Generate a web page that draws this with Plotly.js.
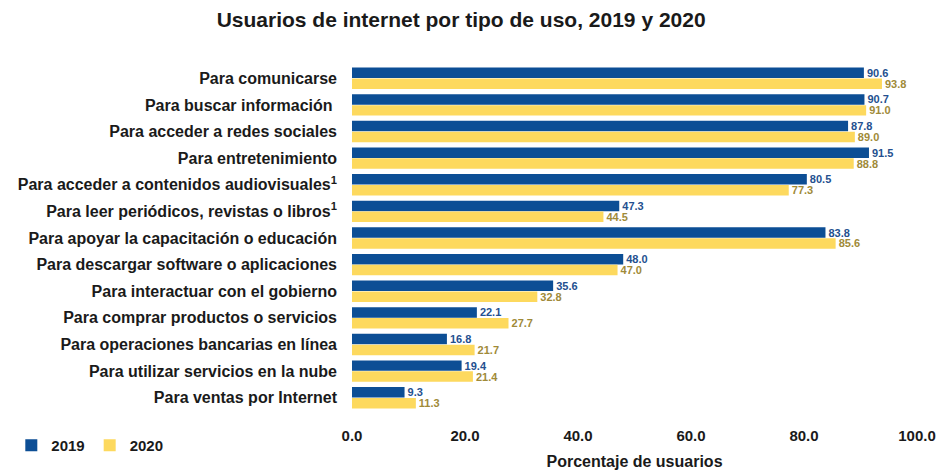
<!DOCTYPE html>
<html>
<head>
<meta charset="utf-8">
<script src="https://cdn.plot.ly/plotly-3.0.1.min.js"></script>
<style>html,body{margin:0;padding:0;background:#fff;}#chart{width:943px;height:474px;}</style>
</head>
<body>
<div id="chart"></div>
<script>
const categories = [
  "Para comunicarse",
  "Para buscar información ",
  "Para acceder a redes sociales",
  "Para entretenimiento",
  "Para acceder a contenidos audiovisuales<sup>1</sup>",
  "Para leer periódicos, revistas o libros<sup>1</sup>",
  "Para apoyar la capacitación o educación",
  "Para descargar software o aplicaciones",
  "Para interactuar con el gobierno",
  "Para comprar productos o servicios",
  "Para operaciones bancarias en línea",
  "Para utilizar servicios en la nube",
  "Para ventas por Internet"
];
const values2019 = [90.6, 90.7, 87.8, 91.5, 80.5, 47.3, 83.8, 48.0, 35.6, 22.1, 16.8, 19.4, 9.3];
const values2020 = [93.8, 91.0, 89.0, 88.8, 77.3, 44.5, 85.6, 47.0, 32.8, 27.7, 21.7, 21.4, 11.3];
const seriesNames = ["2019", "2020"];
const tickVals = [0, 20, 40, 60, 80, 100];
const tickText = ["0.0", "20.0", "40.0", "60.0", "80.0", "100.0"];

const FONT = "Liberation Sans, Arial, sans-serif";

const traces = [
  {
    type: "bar", orientation: "h", name: seriesNames[0],
    y: categories, x: values2019,
    marker: {color: "#0c4e95"},
    text: values2019.map(v => v.toFixed(1)),
    textposition: "outside", cliponaxis: false, constraintext: "none",
    textfont: {family: FONT, size: 11, color: "#24508f", weight: "bold"},
    hoverinfo: "x+y"
  },
  {
    type: "bar", orientation: "h", name: seriesNames[1],
    y: categories, x: values2020,
    marker: {color: "#fdd95e"},
    text: values2020.map(v => v.toFixed(1)),
    textposition: "outside", cliponaxis: false, constraintext: "none",
    textfont: {family: FONT, size: 11, color: "#a08a38", weight: "bold"},
    hoverinfo: "x+y"
  }
];

const layout = {
  width: 943, height: 474,
  margin: {l: 350, r: 26, t: 65, b: 59},
  paper_bgcolor: "#ffffff", plot_bgcolor: "#ffffff",
  font: {family: FONT, color: "#1a1a1a"},
  title: {
    text: "<b>Usuarios de internet por tipo de uso, 2019 y 2020</b>",
    font: {family: FONT, size: 21, color: "#1a1a1a"},
    x: 0.489, xanchor: "center", xref: "container",
    y: 0.958, yanchor: "middle", yref: "container"
  },
  barmode: "group",
  bargap: 0.18,
  bargroupgap: 0.04,
  xaxis: {
    range: [0, 100],
    tickvals: tickVals, ticktext: tickText,
    showgrid: false, zeroline: false, showline: false,
    ticks: "", ticklabelstandoff: 14, automargin: false,
    tickfont: {family: FONT, size: 15, color: "#1a1a1a", weight: "bold"},
    title: {text: "<b>Porcentaje de usuarios</b>", font: {family: FONT, size: 16, color: "#1a1a1a"}, standoff: 12}
  },
  yaxis: {
    autorange: "reversed",
    showgrid: false, zeroline: false, showline: false,
    ticks: "", ticklabelstandoff: 14, automargin: false,
    tickfont: {family: FONT, size: 16, color: "#1a1a1a", weight: "bold"}
  },
  legend: {
    orientation: "h",
    x: -0.603, xanchor: "left",
    y: -0.1, yanchor: "middle",
    font: {family: FONT, size: 15, color: "#1a1a1a", weight: "bold"},
    itemwidth: 30, tracegroupgap: 0
  },
  showlegend: true
};

Plotly.newPlot("chart", traces, layout, {displayModeBar: false, staticPlot: true});
</script>
</body>
</html>
